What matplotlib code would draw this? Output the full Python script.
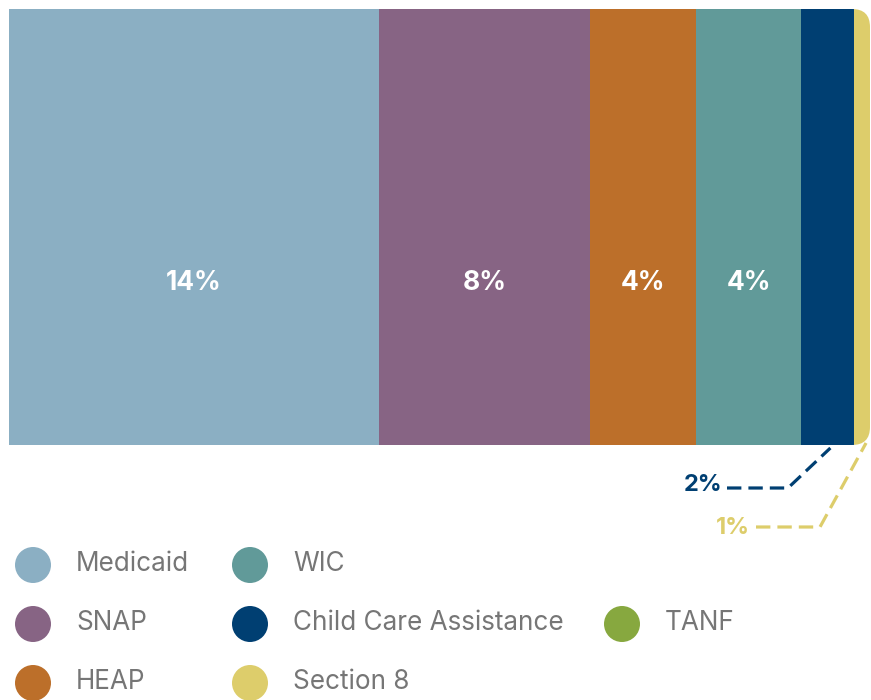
import matplotlib
matplotlib.use("Agg")
import matplotlib.pyplot as plt
from matplotlib.patches import FancyBboxPatch

categories = ["Medicaid", "SNAP", "HEAP", "WIC", "Child Care Assistance", "Section 8", "TANF"]
values = [14.0, 8.0, 4.0, 4.0, 2.0, 0.6, 0.0]
labels = ["14%", "8%", "4%", "4%", "2%", "1%", ""]
colors = ["#8BAFC3", "#876484", "#BC6F2A", "#619A99", "#003F72", "#DDCD6B", "#87A83F"]

FONT = ["Inter", "DejaVu Sans"]
plt.rcParams["font.family"] = FONT

W, H = 871, 700
fig = plt.figure(figsize=(W / 100, H / 100), dpi=100)

# overlay axes in pixel coordinates for legend / callouts
ov = fig.add_axes([0, 0, 1, 1], zorder=2)
ov.set_xlim(0, W)
ov.set_ylim(H, 0)
ov.axis("off")
ov.patch.set_alpha(0)

bx0, bx1, by0, by1 = 9, 870, 9, 445
ax = fig.add_axes([bx0 / W, 1 - by1 / H, (bx1 - bx0) / W, (by1 - by0) / H], zorder=1)
total = sum(values)
ax.set_xlim(0, total)
ax.set_ylim(-0.5, 0.5)
ax.axis("off")

# rounded clip on the right end
xpp = total / (bx1 - bx0)
ypp = 1.0 / (by1 - by0)
r = 18 * xpp
clip = FancyBboxPatch((-5, -0.5), total + 5, 1.0,
                      boxstyle=f"round,pad=0,rounding_size={r}",
                      mutation_aspect=ypp / xpp, transform=ax.transData,
                      facecolor="none", edgecolor="none")
ax.add_patch(clip)

left = 0
for v, c, lab in zip(values, colors, labels):
    bars = ax.barh(0, v, left=left, height=1.0, color=c, edgecolor="none")
    for b in bars:
        b.set_clip_path(clip)
    if v >= 3:
        ax.text(left + v / 2, -0.128, lab, color="white", fontsize=19,
                fontweight="bold", ha="center", va="center")
    left += v

def to_ov(xd, yd):
    p = ax.transData.transform((xd, yd))
    return ov.transData.inverted().transform(p)

# callouts
starts = [sum(values[:i]) for i in range(len(values))]
# Child Care
cc = 4
ax_pt = to_ov(starts[cc] + values[cc] * 0.55, -0.5)
ov.plot([727, 788, ax_pt[0]], [488, 488, ax_pt[1] + 3], color=colors[cc], lw=2.3,
        ls=(0, (4.5, 2.2)), solid_capstyle="butt")
ov.text(703, 485, labels[cc], color=colors[cc], fontsize=17, fontweight="bold",
        ha="center", va="center")
# Section 8
s8 = 5
ax_pt = to_ov(starts[s8] + values[s8] * 0.75, -0.5)
ov.plot([756, 820, ax_pt[0]], [527, 527, ax_pt[1] - 2], color=colors[s8], lw=2.3,
        ls=(0, (4.5, 2.2)), solid_capstyle="butt")
ov.text(733, 528, labels[s8], color=colors[s8], fontsize=17, fontweight="bold",
        ha="center", va="center")

# legend
col_x = [33, 250, 622]
row_y = [565, 624, 683]
pos = [(0, 0), (0, 1), (0, 2), (1, 0), (1, 1), (1, 2), (2, 1)]
for (ci, ri), name, c in zip(pos, categories, colors):
    x, y = col_x[ci], row_y[ri]
    ov.scatter([x], [y], s=(36 * 0.72) ** 2, color=c, edgecolors="none", zorder=3)
    ov.text(x + 43, y - 1, name, color="#767676", fontsize=18.8, ha="left", va="center")

fig.savefig("out.png", dpi=100)
